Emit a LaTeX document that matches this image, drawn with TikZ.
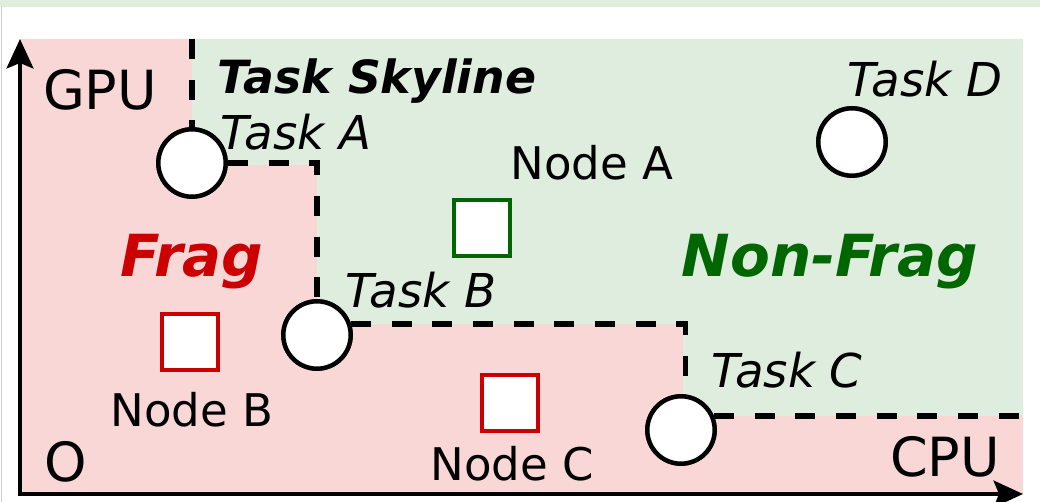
\documentclass[tikz,border=0pt]{standalone}
\usepackage{fontspec}
\setmainfont{DejaVu Sans}
\usetikzlibrary{arrows.meta}
\definecolor{pinkbg}{RGB}{249,215,214}
\definecolor{greenbg}{RGB}{223,237,223}
\definecolor{fragred}{RGB}{204,0,0}
\definecolor{nfgreen}{RGB}{0,102,0}
\tikzset{
  skyline/.style={line width=4.2pt, dash pattern=on 15pt off 15.5pt},
  axisline/.style={line width=3.3pt},
  taskc/.style={circle, draw=black, fill=white, line width=3.3pt, minimum size=50.5pt, inner sep=0},
  nodesq/.style={rectangle, fill=white, line width=3.2pt, minimum size=42pt, inner sep=0},
  lbl/.style={inner sep=0, anchor=base},
  tasklbl/.style={lbl, font=\fontsize{35}{35}\selectfont\itshape},
  nodelbl/.style={lbl, font=\fontsize{33.75}{33.75}\selectfont},
  axlbl/.style={lbl, font=\fontsize{40.5}{40.5}\selectfont},
  biglbl/.style={lbl, font=\fontsize{43.5}{43.5}\selectfont\bfseries\itshape},
}
\begin{document}
\begin{tikzpicture}[x=0.75pt,y=-0.75pt]
\useasboundingbox (0,0) rectangle (1040,502);
% backgrounds
\fill[greenbg] (0,0) rectangle (1040,7);
\draw[gray!40, line width=0.75pt] (1.5,7) -- (1.5,502);
\fill[pinkbg] (20,39) rectangle (1023,494);
\fill[greenbg] (192,39) -- (1023,39) -- (1023,416) -- (683,416) -- (683,324) -- (317,324) -- (317,165) -- (192,165) -- cycle;
% coordinates
\coordinate (origin) at (20,494);
\coordinate (ytop) at (20,39);
\coordinate (xend) at (1023,494);
\coordinate (skyTop) at (192,39);
\coordinate (skyEnd) at (1023,416);
% tasks
\node[taskc] (tA) at (192,163) {};
\node[taskc] (tB) at (317,335) {};
\node[taskc] (tC) at (681,430) {};
\node[taskc] (tD) at (852,142) {};
% skyline
\draw[skyline] (skyTop) -- (tA.north);
\draw[skyline] (tA.east) -- (tA.east -| tB.north) -- (tB.north);
\draw[skyline] (tB.18) -- (tB.18 -| tC.83) -- (tC.83);
\draw[skyline] (tC.23) -- (tC.23 -| skyEnd);
% axes
\draw[axisline, {Stealth[length=22pt,width=20pt,inset=4pt]}-{Stealth[length=22pt,width=20pt,inset=4pt]}] (ytop) |- (xend);
% redraw circles on top
\node[taskc] at (tA) {};
\node[taskc] at (tB) {};
\node[taskc] at (tC) {};
\node[taskc] at (tD) {};
% machine nodes
\node[nodesq, draw=nfgreen] (nA) at (482,228) {};
\node[nodesq, draw=fragred] (nB) at (190,342) {};
\node[nodesq, draw=fragred] (nC) at (510,403) {};
% labels
\node[axlbl] (gpu) at (100,110) {GPU};
\node[axlbl] (cpu) at (945,477) {CPU};
\node[axlbl] (o) at (66,482) {O};
\node[lbl, font=\fontsize{34.3}{34.3}\selectfont\bfseries\itshape] (sky) at (377,94) {Task Skyline};
\node[tasklbl] (lA) at (296,150) {Task A};
\node[tasklbl] (lB) at (421,308) {Task B};
\node[tasklbl] (lC) at (787,388) {Task C};
\node[tasklbl] (lD) at (925,97) {Task D};
\node[nodelbl] (lnA) at (592,180) {Node A};
\node[nodelbl] (lnB) at (192,427) {Node B};
\node[nodelbl] (lnC) at (512,480) {Node C};
\node[biglbl, text=fragred] (frag) at (192,277) {Frag};
\node[biglbl, text=nfgreen] (nonfrag) at (830,277) {Non-Frag};
\end{tikzpicture}
\end{document}
